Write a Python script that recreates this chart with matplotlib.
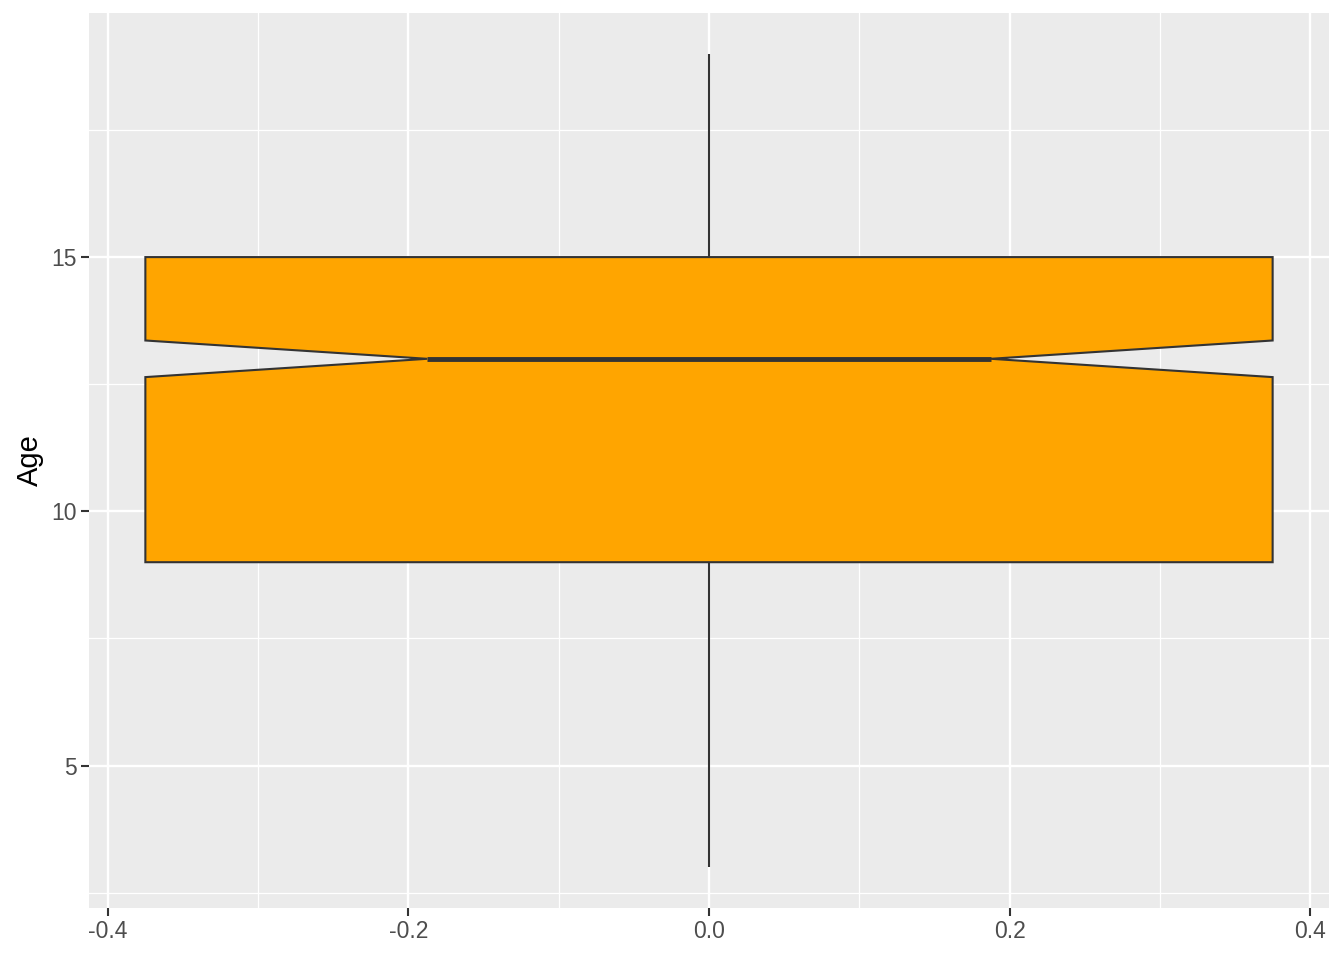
import matplotlib
matplotlib.use("Agg")
import matplotlib.pyplot as plt
from matplotlib.ticker import FixedLocator

plt.rcParams['font.family'] = ['Liberation Sans', 'DejaVu Sans']

# Boxplot statistics
whisker_low = 3
q1 = 9
median = 13
q3 = 15
whisker_high = 19
notch_low = 12.64
notch_high = 13.36
box_halfwidth = 0.375
notch_halfwidth = 0.1875
x_ticks = [-0.4, -0.2, 0.0, 0.2, 0.4]
x_ticklabels = ['-0.4', '-0.2', '0.0', '0.2', '0.4']
y_ticks = [5, 10, 15]
y_label = 'Age'
fill_color = '#FFA500'
edge_color = '#333333'

fig = plt.figure(figsize=(13.44, 9.6), dpi=100)
ax = fig.add_axes([89/1344, 52/960, 1240/1344, 895/960])
ax.set_facecolor('#EBEBEB')

# whiskers
ax.plot([0, 0], [q3, whisker_high], color=edge_color, lw=1.5, zorder=2, solid_capstyle='butt')
ax.plot([0, 0], [whisker_low, q1], color=edge_color, lw=1.5, zorder=2, solid_capstyle='butt')

# notched box polygon
xs = [-box_halfwidth, box_halfwidth, box_halfwidth, notch_halfwidth, box_halfwidth,
      box_halfwidth, -box_halfwidth, -box_halfwidth, -notch_halfwidth, -box_halfwidth, -box_halfwidth]
ys = [q1, q1, notch_low, median, notch_high, q3, q3, notch_high, median, notch_low, q1]
ax.fill(xs, ys, facecolor=fill_color, edgecolor=edge_color, lw=1.5, zorder=3, joinstyle='miter')
ax.plot([-notch_halfwidth, notch_halfwidth], [median, median], color=edge_color, lw=3.5,
        zorder=4, solid_capstyle='butt')

ax.set_xlim(-0.4125, 0.4125)
ax.set_ylim(2.2, 19.8)
ax.xaxis.set_major_locator(FixedLocator(x_ticks))
ax.set_xticklabels(x_ticklabels)
ax.xaxis.set_minor_locator(FixedLocator([-0.3, -0.1, 0.1, 0.3]))
ax.yaxis.set_major_locator(FixedLocator(y_ticks))
ax.yaxis.set_minor_locator(FixedLocator([2.5, 7.5, 12.5, 17.5]))

ax.grid(which='major', color='white', lw=1.7, zorder=0)
ax.grid(which='minor', color='white', lw=0.9, zorder=0)
ax.set_axisbelow(True)
for s in ax.spines.values():
    s.set_visible(False)

ax.tick_params(which='major', length=5.5, width=1.5, color='#333333', labelcolor='#4D4D4D',
               labelsize=16.5, pad=3.5)
ax.tick_params(which='minor', length=0)
ax.set_ylabel(y_label, fontsize=21, color='black', labelpad=5)

fig.savefig('out.png', dpi=100, facecolor='white')
